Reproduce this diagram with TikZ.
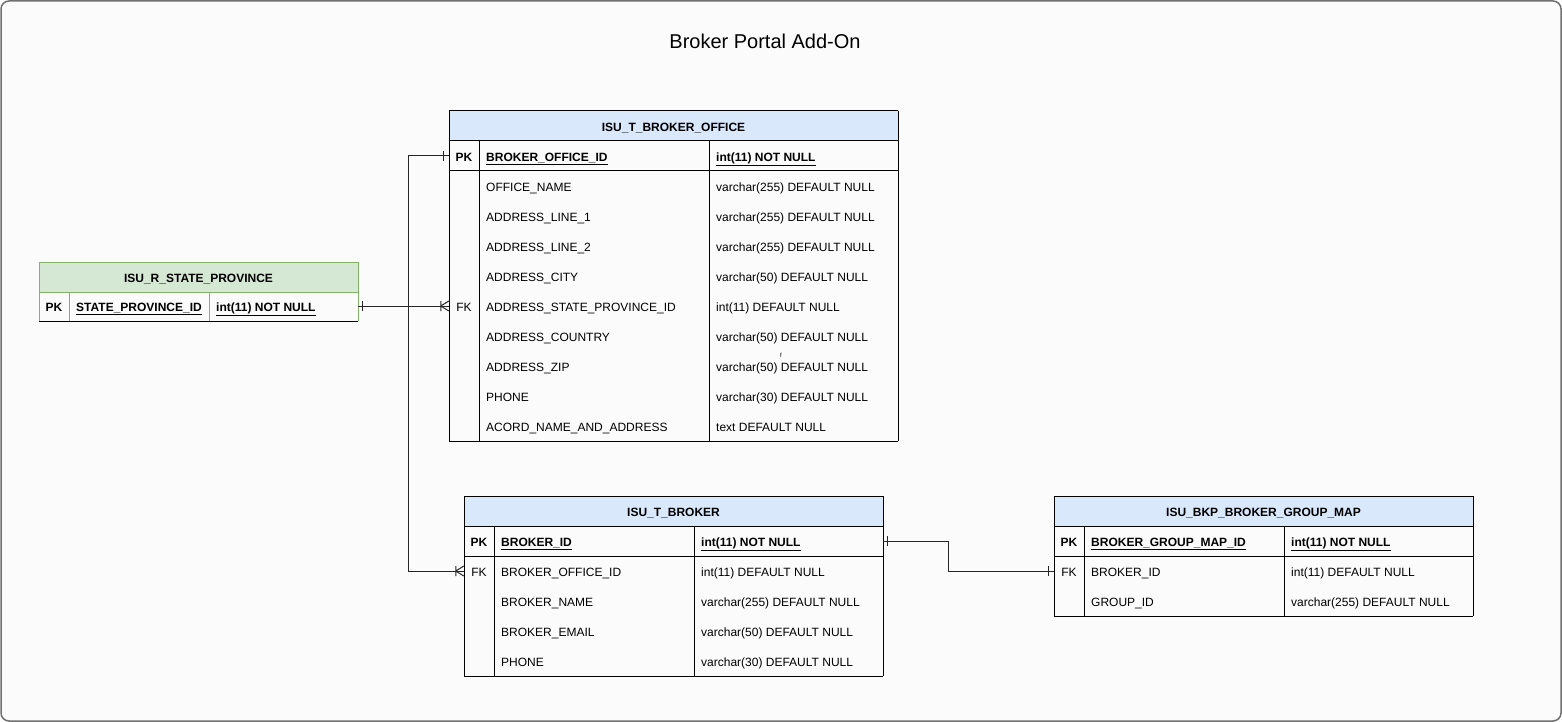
\documentclass[tikz,border=0pt]{standalone}
\usepackage{fontspec}
\setmainfont{Liberation Sans}
\usepackage{tikz}
\usetikzlibrary{calc}
\definecolor{hdrblue}{HTML}{DAE8FC}
\definecolor{hdrgreen}{HTML}{D5E8D4}
\definecolor{greenline}{HTML}{82B366}
\definecolor{pagebg}{HTML}{FBFBFB}
\definecolor{frameline}{HTML}{707070}
\tikzset{
  every node/.style={font=\fontsize{12}{14}\selectfont},
  tblhead/.style={inner sep=0pt, minimum height=30pt, text height=10.4pt, text depth=0pt, font=\fontsize{12}{14}\selectfont\bfseries},
  cell/.style={anchor=west, inner sep=0pt, text height=10.4pt, text depth=0pt},
  keycell/.style={inner sep=0pt, minimum width=30pt, minimum height=30pt, text height=10.4pt, text depth=0pt},
  rowbox/.style={inner sep=0pt, minimum height=29pt},
  tline/.style={black, line width=1pt},
  conn/.style={black!85, line width=1pt},
  onebar/.pic={\draw[conn] (0,-5) -- (0,5);},
  manybar/.pic={\draw[conn] (0,-5) -- (0,5) (0,0) -- (8,-5) (0,0) -- (8,5);}
}

\begin{document}
\begin{tikzpicture}[x=1pt,y=-1pt]
			%%%%% PAGE %%%%%
			\useasboundingbox (0,0) rectangle (1562,722);
			\draw[frameline, line width=1.5pt, fill=pagebg, rounded corners=8pt] (1,1) rectangle (1561,721);
			
			\node[font=\fontsize{20}{24}\selectfont] (title) at (765,41) {Broker Portal Add-On};
			
			%%%%% ISU_R_STATE_PROVINCE %%%%%
			\node[tblhead, fill=hdrgreen, minimum width=319pt] (state) at (198.5,277) {ISU\_R\_STATE\_PROVINCE};
			\node[rowbox, minimum width=319pt] (staterow) at (198.5,306) {};
			\node[keycell] (statepk) at (54,306.5) {\textbf{PK}};
			\node[cell, font=\fontsize{12}{14}\selectfont\bfseries] (state-n) at (76,306.5) {\underline{STATE\_PROVINCE\_ID}};
			\node[cell, font=\fontsize{12}{14}\selectfont\bfseries] (state-t) at (216,306.5) {\underline{int(11) NOT NULL}};
			\draw[greenline, line width=1pt] (39,262) -- (358,262) (39,292) -- (358,292);
			\draw[greenline, line width=1pt] (39,262) -- (39,321) (358,262) -- (358,321) (69,292) -- (69,321) (209,292) -- (209,321);
			\draw[tline] (39,321) -- (358,321);
			
			%%%%% ISU_T_BROKER_OFFICE %%%%%
			\node[tblhead, fill=hdrblue, minimum width=449pt] (office) at (673.5,126) {ISU\_T\_BROKER\_OFFICE};
			\node[keycell] (officepk) at (464,156) {\textbf{PK}};
			\node[cell, font=\fontsize{12}{14}\selectfont\bfseries] (office-n0) at (486,156) {\underline{BROKER\_OFFICE\_ID}};
			\node[cell, font=\fontsize{12}{14}\selectfont\bfseries] (office-t0) at (716,156) {\underline{int(11) NOT NULL}};
			\foreach \fname/\ftype [count=\i] in {OFFICE\_NAME/varchar(255) DEFAULT NULL,
			    ADDRESS\_LINE\_1/varchar(255) DEFAULT NULL, ADDRESS\_LINE\_2/varchar(255) DEFAULT NULL,
			    ADDRESS\_CITY/varchar(50) DEFAULT NULL, ADDRESS\_STATE\_PROVINCE\_ID/int(11) DEFAULT NULL,
			    ADDRESS\_COUNTRY/varchar(50) DEFAULT NULL, ADDRESS\_ZIP/varchar(50) DEFAULT NULL,
			    PHONE/varchar(30) DEFAULT NULL, ACORD\_NAME\_AND\_ADDRESS/text DEFAULT NULL}{
			  \node[cell] (office-n\i) at (486,156+30*\i) {\fname};
			  \node[cell] (office-t\i) at (716,156+30*\i) {\ftype};
			}
			\node[keycell] (officefk) at (464,306) {FK};
			\node[font=\fontsize{6}{7}\selectfont, inner sep=0pt] (stray) at (781,355) {f};
			\draw[tline] (449,111) -- (898,111) (449,141) -- (898,141) (449,171) -- (898,171) (449,441) -- (898,441);
			\draw[tline] (449,111) -- (449,441) (898,111) -- (898,441) (479,141) -- (479,441) (709,141) -- (709,441);
			
			%%%%% ISU_T_BROKER %%%%%
			\node[tblhead, fill=hdrblue, minimum width=419pt] (broker) at (673.5,511) {ISU\_T\_BROKER};
			\node[rowbox, minimum width=419pt] (brokerrow) at (673.5,541) {};
			\node[keycell] (brokerpk) at (479,541) {\textbf{PK}};
			\node[cell, font=\fontsize{12}{14}\selectfont\bfseries] (broker-n0) at (501,541) {\underline{BROKER\_ID}};
			\node[cell, font=\fontsize{12}{14}\selectfont\bfseries] (broker-t0) at (701,541) {\underline{int(11) NOT NULL}};
			\foreach \fname/\ftype [count=\i] in {BROKER\_OFFICE\_ID/int(11) DEFAULT NULL,
			    BROKER\_NAME/varchar(255) DEFAULT NULL, BROKER\_EMAIL/varchar(50) DEFAULT NULL,
			    PHONE/varchar(30) DEFAULT NULL}{
			  \node[cell] (broker-n\i) at (501,541+30*\i) {\fname};
			  \node[cell] (broker-t\i) at (701,541+30*\i) {\ftype};
			}
			\node[keycell] (brokerfk) at (479,571) {FK};
			\draw[tline] (464,496) -- (883,496) (464,526) -- (883,526) (464,556) -- (883,556) (464,676) -- (883,676);
			\draw[tline] (464,496) -- (464,676) (883,496) -- (883,676) (494,526) -- (494,676) (694,526) -- (694,676);
			
			%%%%% ISU_BKP_BROKER_GROUP_MAP %%%%%
			\node[tblhead, fill=hdrblue, minimum width=419pt] (group) at (1263.5,511) {ISU\_BKP\_BROKER\_GROUP\_MAP};
			\node[keycell] (grouppk) at (1069,541) {\textbf{PK}};
			\node[cell, font=\fontsize{12}{14}\selectfont\bfseries] (group-n0) at (1091,541) {\underline{BROKER\_GROUP\_MAP\_ID}};
			\node[cell, font=\fontsize{12}{14}\selectfont\bfseries] (group-t0) at (1291,541) {\underline{int(11) NOT NULL}};
			\node[keycell] (groupfk) at (1069,571) {FK};
			\node[cell] (group-n1) at (1091,571) {BROKER\_ID};
			\node[cell] (group-t1) at (1291,571) {int(11) DEFAULT NULL};
			\node[cell] (group-n2) at (1091,601) {GROUP\_ID};
			\node[cell] (group-t2) at (1291,601) {varchar(255) DEFAULT NULL};
			\draw[tline] (1054,496) -- (1473,496) (1054,526) -- (1473,526) (1054,556) -- (1473,556) (1054,616) -- (1473,616);
			\draw[tline] (1054,496) -- (1054,616) (1473,496) -- (1473,616) (1084,526) -- (1084,616) (1284,526) -- (1284,616);
			
			%%%%% RELATIONS %%%%%
			\draw[conn] (staterow.east) -- (officefk.west);
			\pic at ($(staterow.east)+(4,0)$) {onebar};
			\pic at ($(officefk.west)+(-8,0)$) {manybar};
			
			\draw[conn] (officepk.west) -- ++(-40,0) |- (brokerfk.west);
			\pic at ($(officepk.west)+(-5,0)$) {onebar};
			\pic at ($(brokerfk.west)+(-8,0)$) {manybar};
			
			\draw[conn] (brokerrow.east) -- ++(65,0) |- (groupfk.west);
			\pic at ($(brokerrow.east)+(4,0)$) {onebar};
			\pic at ($(groupfk.west)+(-5,0)$) {onebar};
			
		\end{tikzpicture}
\end{document}
